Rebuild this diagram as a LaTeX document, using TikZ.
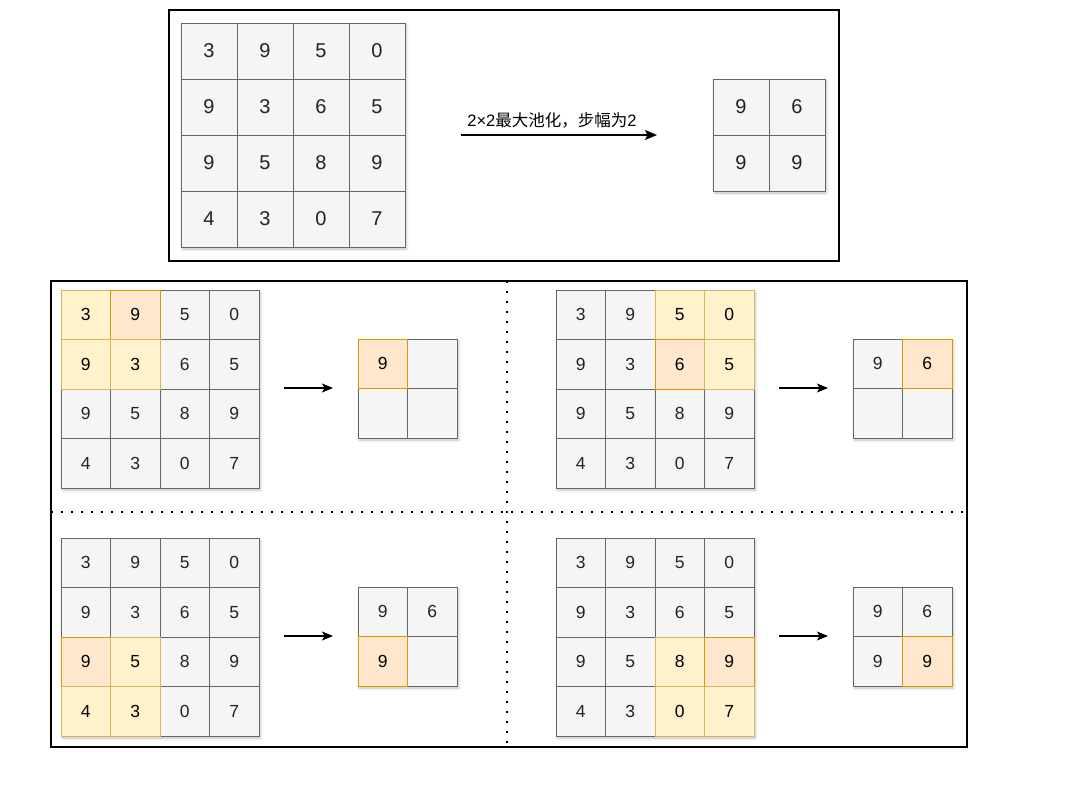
\documentclass[tikz,border=0pt]{standalone}
\usepackage{fontspec}
\setmainfont{Liberation Sans}
\newfontfamily\cjk{Noto Sans CJK SC}
\usetikzlibrary{arrows.meta,shadows.blur}
\definecolor{cellfill}{HTML}{F5F5F5}
\definecolor{cellline}{HTML}{666666}
\definecolor{celltext}{HTML}{222222}
\definecolor{yfill}{HTML}{FFF2CC}
\definecolor{yline}{HTML}{D6B656}
\definecolor{ofill}{HTML}{FFE6CC}
\definecolor{oline}{HTML}{D79B00}
\tikzset{
  cell/.style={draw=cellline, fill=cellfill, text=celltext, minimum size=#1, inner sep=0pt, line width=0.9pt, anchor=center},
  cg/.style={},
  cy/.style={fill=yfill, draw=yline, text=black},
  co/.style={fill=ofill, draw=oline, text=black},
  frame/.style={draw=black, line width=1.5pt},
  sep/.style={draw=black, line width=2.2pt, dash pattern=on 2.2pt off 7.8pt},
  arr/.style={draw=black, line width=1.3pt, -{Stealth[length=12pt,width=10pt,inset=2.5pt]}},
  sarr/.style={draw=black, line width=1.1pt, -{Stealth[length=11pt,width=9pt,inset=2.5pt]}},
}
\newcommand\mygrid[7]{%
  \path[fill=cellfill, blur shadow={shadow xshift=1.5pt, shadow yshift=-2pt, shadow blur radius=2.5pt, shadow opacity=25}] (#3,#4) rectangle ++(#2*#5,#2*#5);
  \foreach \vv/\st [count=\ii from 0] in {#7} {
    \pgfmathtruncatemacro\rr{int(\ii/#2)}
    \pgfmathtruncatemacro\cc{mod(\ii,#2)}
    \if\st g
      \node[cell=#5pt, font=\fontsize{#6}{#6}\selectfont, c\st] (#1-\rr-\cc) at ({#3+\cc*#5+#5/2}, {#4+\rr*#5+#5/2}) {\vv};
    \fi
  }
  \foreach \vv/\st [count=\ii from 0] in {#7} {
    \pgfmathtruncatemacro\rr{int(\ii/#2)}
    \pgfmathtruncatemacro\cc{mod(\ii,#2)}
    \if\st g\else
      \node[cell=#5pt, font=\fontsize{#6}{#6}\selectfont, c\st] (#1-\rr-\cc) at ({#3+\cc*#5+#5/2}, {#4+\rr*#5+#5/2}) {\vv};
    \fi
  }
}
\begin{document}
\begin{tikzpicture}[x=1pt, y=-1pt]
\useasboundingbox (0,0) rectangle (1092,786);
% top panel
\draw[frame] (169,10) rectangle (839,261);
\mygrid{A}{4}{181}{23}{56}{20}{3/g,9/g,5/g,0/g,9/g,3/g,6/g,5/g,9/g,5/g,8/g,9/g,4/g,3/g,0/g,7/g}
\mygrid{B}{2}{713}{79}{56}{20}{9/g,6/g,9/g,9/g}
\coordinate (ta) at (461,135);
\coordinate (tb) at (657,135);
\draw[arr] (ta) -- (tb);
\node[font=\fontsize{16.5}{17}\selectfont, inner sep=0pt, text=black] (lbl) at (552,120) {2×2{\cjk 最大池化，步幅为}2};
% bottom panel
\draw[frame] (51,281) rectangle (967,747);
\coordinate (v1) at (507,281);
\coordinate (v2) at (507,747);
\coordinate (h1) at (51,512);
\coordinate (h2) at (967,512);
\draw[sep] (v1) -- (v2);
\draw[sep] (h1) -- (h2);
% TL
\mygrid{P}{4}{61}{290}{49.5}{17.5}{3/y,9/o,5/g,0/g,9/y,3/y,6/g,5/g,9/g,5/g,8/g,9/g,4/g,3/g,0/g,7/g}
\mygrid{Q}{2}{358}{339}{49.5}{17.5}{9/o,/g,/g,/g}
\coordinate (pa) at (284,388); \coordinate (pb) at (333,388);
\draw[sarr] (pa) -- (pb);
% TR
\mygrid{R}{4}{556}{290}{49.5}{17.5}{3/g,9/g,5/y,0/y,9/g,3/g,6/o,5/y,9/g,5/g,8/g,9/g,4/g,3/g,0/g,7/g}
\mygrid{S}{2}{853}{339}{49.5}{17.5}{9/g,6/o,/g,/g}
\coordinate (ra) at (779,388); \coordinate (rb) at (828,388);
\draw[sarr] (ra) -- (rb);
% BL
\mygrid{T}{4}{61}{538}{49.5}{17.5}{3/g,9/g,5/g,0/g,9/g,3/g,6/g,5/g,9/o,5/y,8/g,9/g,4/y,3/y,0/g,7/g}
\mygrid{U}{2}{358}{587}{49.5}{17.5}{9/g,6/g,9/o,/g}
\coordinate (ua) at (284,636); \coordinate (ub) at (333,636);
\draw[sarr] (ua) -- (ub);
% BR
\mygrid{V}{4}{556}{538}{49.5}{17.5}{3/g,9/g,5/g,0/g,9/g,3/g,6/g,5/g,9/g,5/g,8/y,9/o,4/g,3/g,0/y,7/y}
\mygrid{W}{2}{853}{587}{49.5}{17.5}{9/g,6/g,9/g,9/o}
\coordinate (wa) at (779,636); \coordinate (wb) at (828,636);
\draw[sarr] (wa) -- (wb);
\end{tikzpicture}
\end{document}
